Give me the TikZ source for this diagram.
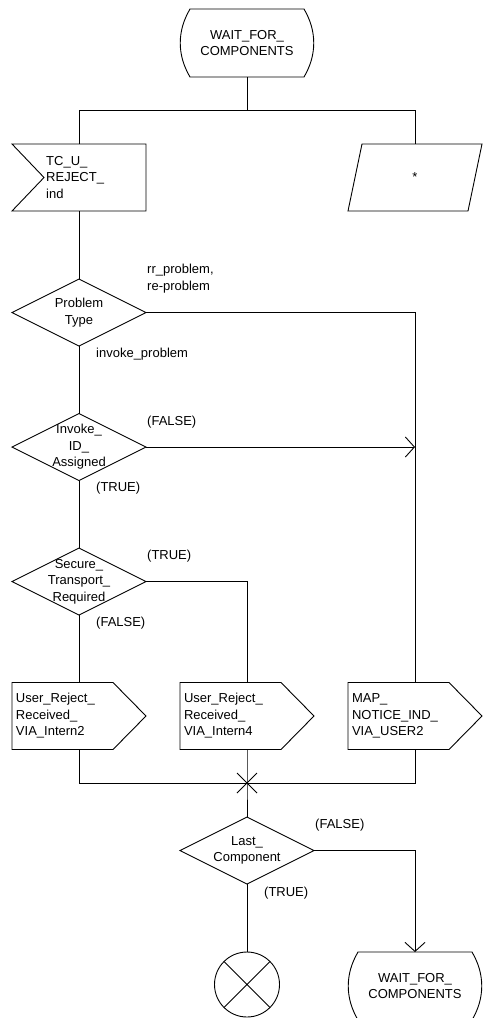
\documentclass[tikz,border=0pt]{standalone}
\usepackage{fontspec}
\setmainfont{Liberation Sans}
\usetikzlibrary{arrows.meta,calc,shapes.geometric}
\tikzset{
  every node/.style={font=\fontsize{13}{16.5}\selectfont},
  ln/.style={line width=0.9pt, draw=black},
  arr/.style={ln, -{Straight Barb[length=9pt,width=20pt,line width=0.9pt]}},
  boxnode/.style={minimum width=134pt, minimum height=67pt, inner sep=0pt, outer sep=0pt, align=center},
  statenode/.style={boxnode, minimum height=68pt},
  outnode/.style={boxnode, text width=126pt, inner xsep=4pt, align=left},
  dec/.style={diamond, ln, minimum width=134pt, minimum height=67pt, inner sep=0pt, outer sep=0pt},
  dectext/.style={inner sep=0pt, align=center},
  lbl/.style={inner sep=0pt, anchor=west, align=left},
  stopnode/.style={circle, ln, minimum size=65pt, inner sep=0pt, outer sep=0pt}
}
\newcommand\drawstatebox[1]{%
  \draw[ln] ([xshift=10pt]#1.north west) -- ([xshift=-10pt]#1.north east)
   .. controls ([xshift=3pt,yshift=-22pt]#1.north east) and ([xshift=3pt,yshift=22pt]#1.south east) .. ([xshift=-10pt]#1.south east)
   -- ([xshift=10pt]#1.south west)
   .. controls ([xshift=-3pt,yshift=22pt]#1.south west) and ([xshift=-3pt,yshift=-22pt]#1.north west) .. ([xshift=10pt]#1.north west) -- cycle;}
\newcommand\drawinputbox[1]{%
  \draw[ln] (#1.north west) -- (#1.north east) -- (#1.south east) -- (#1.south west) -- ([xshift=32pt]#1.west) -- cycle;}
\newcommand\drawoutputbox[1]{%
  \draw[ln] (#1.north west) -- ([xshift=-33pt]#1.north east) -- (#1.east) -- ([xshift=-33pt]#1.south east) -- (#1.south west) -- cycle;}
\newcommand\drawsavebox[1]{%
  \draw[ln] ([xshift=14pt]#1.north west) -- (#1.north east) -- ([xshift=-14pt]#1.south east) -- (#1.south west) -- cycle;}
\begin{document}
\begin{tikzpicture}[x=1pt,y=-1pt]
\useasboundingbox (0,0) rectangle (483,1018);
\clip (0,0) rectangle (483,1018);

% top state
\node[statenode] (s1) at (247,43) {WAIT\_FOR\_\\COMPONENTS};
\drawstatebox{s1}

% input and save
\node[boxnode] (in1) at (79,177.5) {};
\drawinputbox{in1}
\node[lbl] (in1t) at (46,177.5) {TC\_U\_\\REJECT\_\\ind};
\node[boxnode] (sv) at (415,177.5) {*};
\drawsavebox{sv}

% decisions
\node[dec] (d1) at (79,312.5) {};
\node[dectext] (d1t) at (d1) {Problem\\Type};
\node[dec] (d2) at (79,447) {};
\node[dectext] (d2t) at (d2) {Invoke\_\\ID\_\\Assigned};
\node[dec] (d3) at (79,581.5) {};
\node[dectext] (d3t) at (d3) {Secure\_\\Transport\_\\Required};

% outputs
\node[outnode] (o1) at (79,716) {User\_Reject\_\\Received\_\\VIA\_Intern2};
\drawoutputbox{o1}
\node[outnode] (o2) at (247,716) {User\_Reject\_\\Received\_\\VIA\_Intern4};
\drawoutputbox{o2}
\node[outnode] (o3) at (415,716) {MAP\_\\NOTICE\_IND\_\\VIA\_USER2};
\drawoutputbox{o3}

% last component
\coordinate (jx) at (247,783);
\node[dec] (d4) at (247,850.5) {};
\node[dectext] (d4t) at (d4) {Last\_\\Component};

% stop and final state
\node[stopnode] (st) at (247,984.5) {};
\draw[ln] (st.north west) -- (st.south east) (st.north east) -- (st.south west);
\node[statenode] (s2) at (415,986) {WAIT\_FOR\_\\COMPONENTS};
\drawstatebox{s2}

% connectors
\coordinate (j1) at (247,110);
\draw[ln] (s1.south) -- (j1);
\draw[ln] (in1.north) -- (in1.north |- j1) -- (sv.north |- j1) -- (sv.north);
\draw[ln] (in1.south) -- (d1.north);
\draw[ln] (d1.east) -| (o3.north);
\draw[ln] (d1.south) -- (d2.north);
\draw[arr] (d2.east) -- (d2.east -| o3.north);
\draw[ln] (d2.south) -- (d3.north);
\draw[ln] (d3.south) -- (o1.north);
\draw[ln] (d3.east) -| (o2.north);
\draw[ln] (o1.south) -- (o1.south |- jx) -- (o3.south |- jx) -- (o3.south);
\draw[ln] (o2.south) -- (jx) -- (d4.north);
\draw[ln] ([shift={(-10pt,10pt)}]jx) -- ([shift={(10pt,-10pt)}]jx);
\draw[ln] ([shift={(-10pt,-10pt)}]jx) -- ([shift={(10pt,10pt)}]jx);
\draw[arr] (d4.east) -| (s2.north);
\draw[ln] (d4.south) -- (st.north);

% labels
\node[lbl] (l1) at (147,278.5) {rr\_problem,\\re-problem};
\node[lbl] (l2) at (96,354) {invoke\_problem};
\node[lbl] (l3) at (147,422) {(FALSE)};
\node[lbl] (l4) at (96,488) {(TRUE)};
\node[lbl] (l5) at (147,556) {(TRUE)};
\node[lbl] (l6) at (96,623) {(FALSE)};
\node[lbl] (l7) at (315,825) {(FALSE)};
\node[lbl] (l8) at (264,893) {(TRUE)};
\end{tikzpicture}
\end{document}
